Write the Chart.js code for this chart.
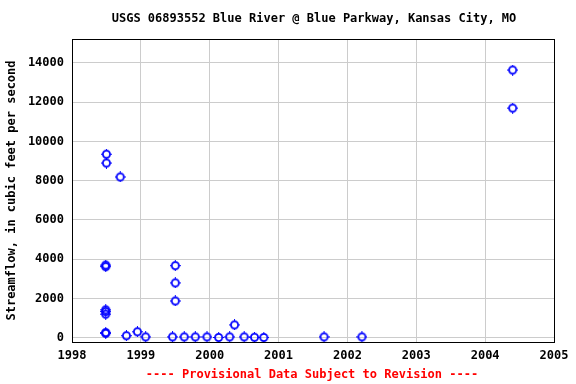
<!DOCTYPE html>
<html>
<head>
<meta charset="utf-8">
<script src="https://cdn.jsdelivr.net/npm/chart.js@4.4.7/dist/chart.umd.min.js"></script>
<style>
  html, body { margin: 0; padding: 0; background: #fff; }
  #wrap { width: 576px; height: 384px; }
</style>
</head>
<body>
<div id="wrap"><canvas id="chart" width="576" height="384"></canvas></div>
<script>
// decimal year of each measurement and streamflow (cfs)
const years = [
  1998.50, 1998.50, 1998.49, 1998.49, 1998.49, 1998.49, 1998.49, 1998.49, 1998.49,
  1998.70, 1998.79, 1998.95, 1999.07,
  1999.46, 1999.50, 1999.50, 1999.50, 1999.63, 1999.79, 1999.96,
  2000.13, 2000.29, 2000.36, 2000.50, 2000.65, 2000.785,
  2001.66, 2002.21,
  2004.40, 2004.40
]
const flows = [
  9350, 8900, 3700, 3620, 1420, 1330, 1200, 260, 220,
  8190, 100, 300, 40,
  40, 3670, 2790, 1870, 40, 40, 40,
  10, 40, 650, 40, 20, 10,
  40, 40,
  13640, 11700
]
const yTicks = [0, 2000, 4000, 6000, 8000, 10000, 12000, 14000]
const xTicks = [1998, 1999, 2000, 2001, 2002, 2003, 2004, 2005]

const titleText = "USGS 06893552 Blue River @ Blue Parkway, Kansas City, MO"
const footText = "---- Provisional Data Subject to Revision ----"
const monoFont = "'DejaVu Sans Mono', 'Liberation Mono', monospace"

// open circle with tiny ticks, like the gif plotter marker
function makeMarker() {
  const c = document.createElement("canvas")
  c.width = 11
  c.height = 11
  const g = c.getContext("2d")
  g.strokeStyle = "#0000ff"
  g.lineWidth = 1.8
  g.beginPath()
  g.arc(5.5, 5.5, 3.6, 0, Math.PI * 2)
  g.stroke()
  g.fillStyle = "#0000ff"
  g.fillRect(5, 0, 1, 1.5)
  g.fillRect(5, 9.5, 1, 1.5)
  g.fillRect(0, 5, 1.5, 1)
  g.fillRect(9.5, 5, 1.5, 1)
  return c
}

const frameAndText = {
  id: "frameAndText",
  afterDraw(chart) {
    const { ctx, chartArea: a } = chart
    ctx.save()
    ctx.strokeStyle = "#000"
    ctx.lineWidth = 1
    ctx.strokeRect(Math.round(a.left) + 0.5, Math.round(a.top) + 0.5,
      Math.round(a.right - a.left), Math.round(a.bottom - a.top))
    ctx.font = "bold 12px " + monoFont
    ctx.textAlign = "center"
    ctx.textBaseline = "middle"
    ctx.fillStyle = "#000"
    ctx.fillText(titleText, 314, 19)
    ctx.fillStyle = "#ff0000"
    ctx.fillText(footText, 312, 375)
    ctx.restore()
  }
}

const points = years.map((x, i) => ({ x, y: flows[i] }))

new Chart(document.getElementById("chart"), {
  type: "scatter",
  data: {
    datasets: [{
      data: points,
      pointStyle: makeMarker(),
      pointRadius: 5,
      pointHoverRadius: 5
    }]
  },
  options: {
    responsive: false,
    animation: false,
    events: [],
    layout: { padding: { left: 0, right: 22, top: 39, bottom: 0 } },
    plugins: {
      legend: { display: false },
      tooltip: { enabled: false }
    },
    scales: {
      x: {
        type: "linear",
        min: 1998,
        max: 2005,
        afterFit: (s) => { s.height = 42 },
        afterBuildTicks: (s) => { s.ticks = xTicks.map(v => ({ value: v })) },
        grid: { color: "#cccccc", drawTicks: false },
        border: { display: false },
        ticks: {
          color: "#000",
          padding: 7,
          font: { family: monoFont, size: 12, weight: "bold" },
          callback: (v) => String(v)
        }
      },
      y: {
        min: -220,
        max: 15220,
        afterFit: (s) => { s.width = 72 },
        afterBuildTicks: (s) => { s.ticks = yTicks.map(v => ({ value: v })) },
        grid: { color: "#cccccc", drawTicks: false },
        border: { display: false },
        ticks: {
          color: "#000",
          padding: 8,
          font: { family: monoFont, size: 12, weight: "bold" },
          callback: (v) => String(v)
        },
        title: {
          display: true,
          text: "Streamflow, in cubic feet per second",
          color: "#000",
          padding: { top: 5, bottom: 0 },
          font: { family: monoFont, size: 12, weight: "bold" }
        }
      }
    }
  },
  plugins: [frameAndText]
})
</script>
</body>
</html>
